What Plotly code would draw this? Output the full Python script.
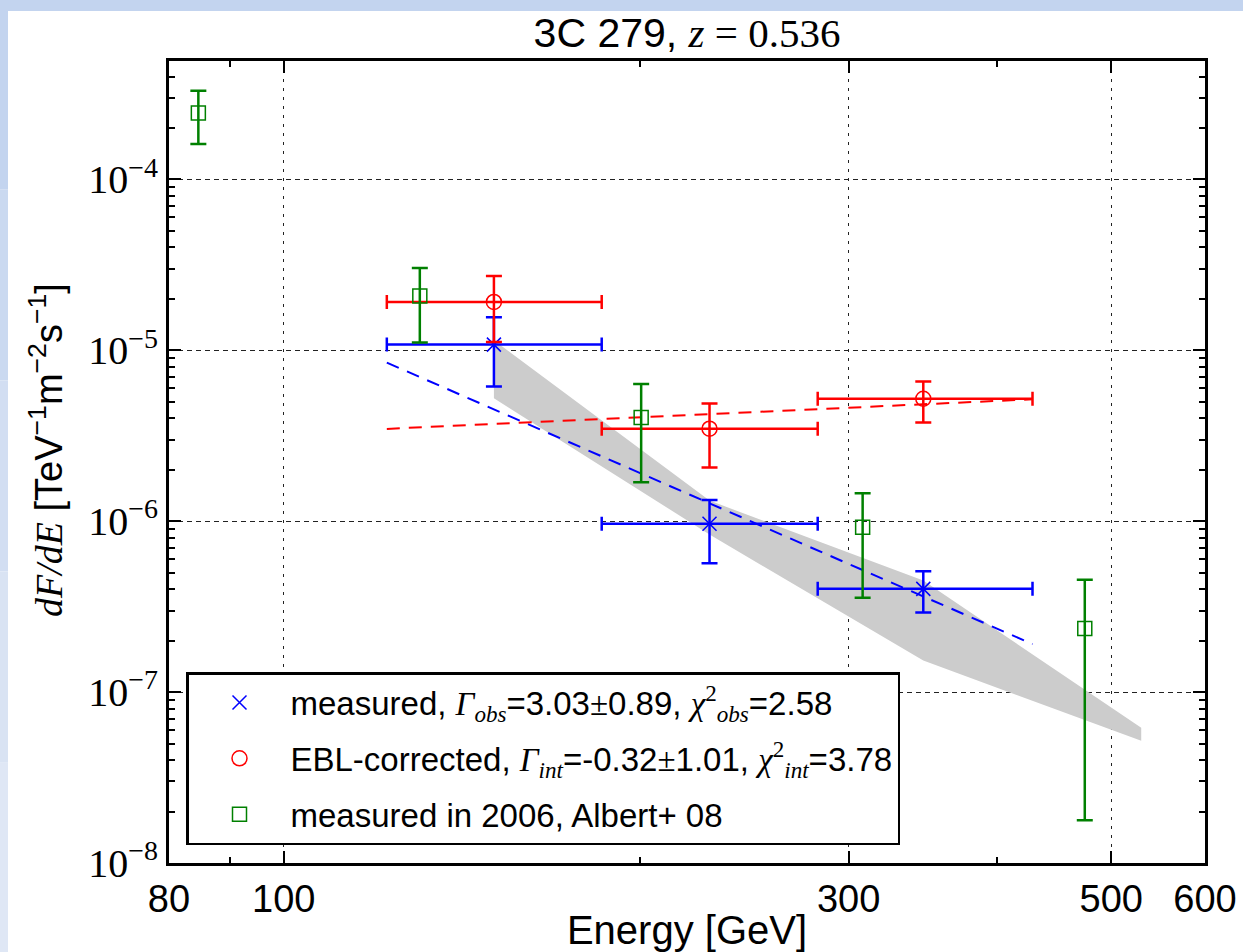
import plotly.graph_objects as go

# ---- data ----
meas_E = [150.5, 228.9, 346.9]
meas_E_lo = [122.2, 185.6, 282.5]
meas_E_hi = [185.6, 282.5, 429.0]
meas_F = [1.08e-5, 9.66e-7, 4.02e-7]
meas_F_hi = [1.56e-5, 1.33e-6, 5.09e-7]
meas_F_lo = [6.15e-6, 5.68e-7, 2.92e-7]

ebl_E = [150.5, 228.9, 346.9]
ebl_F = [1.92e-5, 3.48e-6, 5.21e-6]
ebl_F_hi = [2.72e-5, 4.88e-6, 6.57e-6]
ebl_F_lo = [1.12e-5, 2.06e-6, 3.78e-6]

alb_E = [84.7, 130.3, 200.4, 308.3, 474.9]
alb_F = [2.45e-4, 2.08e-5, 4.04e-6, 9.22e-7, 2.36e-7]
alb_F_hi = [3.30e-4, 3.03e-5, 6.35e-6, 1.46e-6, 4.54e-7]
alb_F_lo = [1.61e-4, 1.11e-5, 1.69e-6, 3.56e-7, 1.78e-8]

fit_E = [122.2, 429.0]
meas_fit_F = [8.47e-6, 1.91e-7]
ebl_fit_F = [3.47e-6, 5.17e-6]

band_E = [150.5, 228.9, 346.9, 530.0]
band_upper = [1.145e-5, 1.32e-6, 4.50e-7, 6.18e-8]
band_lower = [5.24e-6, 8.36e-7, 1.53e-7, 5.19e-8]

x_major = [80, 100, 300, 500, 600]
x_minor = [90, 200, 400]
y_exponents = [-8, -7, -6, -5, -4]

BLUE = "#0000ff"
RED = "#ff0000"
GREEN = "#008000"
SANS = "Liberation Sans, Arial, sans-serif"
SERIF = "Liberation Serif, Times New Roman, serif"


def diff(a, b):
    return [x - y for x, y in zip(a, b)]


def serif(s):
    return "<span style='font-family:Liberation Serif'>" + s + "</span>"


fig = go.Figure()

# shaded band
fig.add_trace(go.Scatter(
    x=band_E + band_E[::-1], y=band_upper + band_lower[::-1],
    fill="toself", fillcolor="#cccccc", line=dict(width=0),
    mode="lines", showlegend=False, hoverinfo="skip"))

# fit lines
fig.add_trace(go.Scatter(x=fit_E, y=meas_fit_F, mode="lines",
                         line=dict(color=BLUE, width=2, dash="13px,9px"),
                         showlegend=False))
fig.add_trace(go.Scatter(x=fit_E, y=ebl_fit_F, mode="lines",
                         line=dict(color=RED, width=2, dash="13px,9px"),
                         showlegend=False))

# measured
fig.add_trace(go.Scatter(
    x=meas_E, y=meas_F, mode="markers",
    name="measured, " + serif("<i>Γ<sub>obs</sub></i>") + "=3.03" + serif("±") + "0.89, "
         + serif("<i>χ</i><sup>2</sup><sub><i>obs</i></sub>") + "=2.58",
    legendgroup="a",
    marker=dict(symbol="x-thin-open", size=14, color=BLUE, line=dict(color=BLUE, width=1.5)),
    error_x=dict(type="data", symmetric=False, array=diff(meas_E_hi, meas_E),
                 arrayminus=diff(meas_E, meas_E_lo), color=BLUE, thickness=2.5, width=7),
    error_y=dict(type="data", symmetric=False, array=diff(meas_F_hi, meas_F),
                 arrayminus=diff(meas_F, meas_F_lo), color=BLUE, thickness=2.5, width=8)))

# EBL corrected
fig.add_trace(go.Scatter(
    x=ebl_E, y=ebl_F, mode="markers",
    name="EBL-corrected, " + serif("<i>Γ<sub>int</sub></i>") + "=-0.32" + serif("±") + "1.01, "
         + serif("<i>χ</i><sup>2</sup><sub><i>int</i></sub>") + "=3.78",
    legendgroup="b",
    marker=dict(symbol="circle-open", size=15, color=RED, line=dict(color=RED, width=1.5)),
    error_x=dict(type="data", symmetric=False, array=diff(meas_E_hi, ebl_E),
                 arrayminus=diff(ebl_E, meas_E_lo), color=RED, thickness=2.5, width=7),
    error_y=dict(type="data", symmetric=False, array=diff(ebl_F_hi, ebl_F),
                 arrayminus=diff(ebl_F, ebl_F_lo), color=RED, thickness=2.5, width=8)))

# Albert+08
fig.add_trace(go.Scatter(
    x=alb_E, y=alb_F, mode="markers",
    name="measured in 2006, Albert+ 08",
    legendgroup="c",
    marker=dict(symbol="square-open", size=14, color=GREEN, line=dict(color=GREEN, width=1.5)),
    error_y=dict(type="data", symmetric=False, array=diff(alb_F_hi, alb_F),
                 arrayminus=diff(alb_F, alb_F_lo), color=GREEN, thickness=2.5, width=8)))

# empty trace to activate mirrored tick axes (top / right)
fig.add_trace(go.Scatter(x=[], y=[], xaxis="x2", yaxis="y2", showlegend=False, hoverinfo="skip"))

W, H = 1243, 952
L, R, T, B = 169, 38, 61, 89
pw, ph = W - L - R, H - T - B


def px_x(p):
    return (p - L) / pw


def px_y(p):
    return (H - B - p) / ph


# slide background strips (decoration)
shapes = [
    dict(type="rect", xref="paper", yref="paper", x0=px_x(-2), x1=px_x(1245), y0=px_y(11), y1=px_y(-2),
         fillcolor="#c3d4ef", line=dict(width=0), layer="below"),
]
strip_cols = ["#c3d4ef", "#cad9f0", "#d2def2", "#d9e3f3", "#dfe7f5"]
n = len(strip_cols)
for i, c in enumerate(strip_cols):
    shapes.append(dict(type="rect", xref="paper", yref="paper", x0=px_x(-2), x1=px_x(8),
                       y0=px_y(-2 + (i + 1) * 956 / n), y1=px_y(-2 + i * 956 / n),
                       fillcolor=c, line=dict(width=0), layer="below"))

y_major = [10.0 ** e for e in y_exponents]
y_major_text = ["10<sup>−%d</sup>" % (-e) for e in y_exponents]
y_minor = [k * 10.0 ** e for e in range(-8, -3) for k in range(2, 10)]
XR = [1.90309, 2.77815]
YR = [-8, -3.307]

tick_common = dict(ticks="inside", ticklen=12, tickwidth=1.5, tickcolor="black", zeroline=False)

fig.update_layout(
    width=W, height=H,
    margin=dict(l=L, r=R, t=T, b=B, autoexpand=False),
    paper_bgcolor="white", plot_bgcolor="white",
    shapes=shapes,
    title=dict(text="3C 279, " + serif("<i>z</i> = 0.536"),
               x=(L + pw / 2) / W, xanchor="center", y=1 - 33 / H, yanchor="middle",
               font=dict(family=SANS, size=41, color="black")),
    annotations=[dict(
        text=serif("<i>dF/dE</i>") + " [TeV<sup>−1</sup>m<sup>−2</sup>s<sup>−1</sup>]",
        textangle=-90, xref="paper", yref="paper", x=px_x(46), y=px_y(450),
        xanchor="center", yanchor="middle", showarrow=False,
        font=dict(family=SANS, size=38, color="black"))],
    xaxis=dict(type="log", range=XR,
               tickmode="array", tickvals=x_major, ticktext=[str(v) for v in x_major],
               tickfont=dict(family=SANS, size=38, color="black"),
               showline=True, linecolor="black", linewidth=3, mirror=True,
               showgrid=True, gridcolor="#222222", gridwidth=1.3, griddash="3px,6px",
               minor=dict(tickmode="array", tickvals=x_minor, ticks="inside", ticklen=6,
                          tickwidth=1.5, tickcolor="black", showgrid=False),
               title=dict(text="Energy [GeV]", font=dict(family=SANS, size=40, color="black"),
                          standoff=6),
               **tick_common),
    xaxis2=dict(type="log", range=XR, overlaying="x", side="top", showgrid=False,
                tickmode="array", tickvals=x_major, showticklabels=False,
                minor=dict(tickmode="array", tickvals=x_minor, ticks="inside", ticklen=6,
                           tickwidth=1.5, tickcolor="black", showgrid=False),
                **tick_common),
    yaxis=dict(type="log", range=YR,
               tickmode="array", tickvals=y_major, ticktext=y_major_text,
               tickfont=dict(family=SERIF, size=40, color="black"),
               showline=True, linecolor="black", linewidth=3, mirror=True,
               showgrid=True, gridcolor="#222222", gridwidth=1.3, griddash="5px,4px",
               minor=dict(tickmode="array", tickvals=y_minor, ticks="inside", ticklen=6,
                          tickwidth=1.5, tickcolor="black", showgrid=False),
               **tick_common),
    yaxis2=dict(type="log", range=YR, overlaying="y", side="right", showgrid=False,
                tickmode="array", tickvals=y_major, showticklabels=False,
                minor=dict(tickmode="array", tickvals=y_minor, ticks="inside", ticklen=6,
                           tickwidth=1.5, tickcolor="black", showgrid=False),
                **tick_common),
    legend=dict(x=px_x(186), y=px_y(845), xanchor="left", yanchor="bottom",
                bgcolor="white", bordercolor="black", borderwidth=2.5,
                font=dict(family=SANS, size=33, color="black"),
                traceorder="grouped", tracegroupgap=10, itemwidth=92),
    showlegend=True,
)

fig.write_html("out.html")
